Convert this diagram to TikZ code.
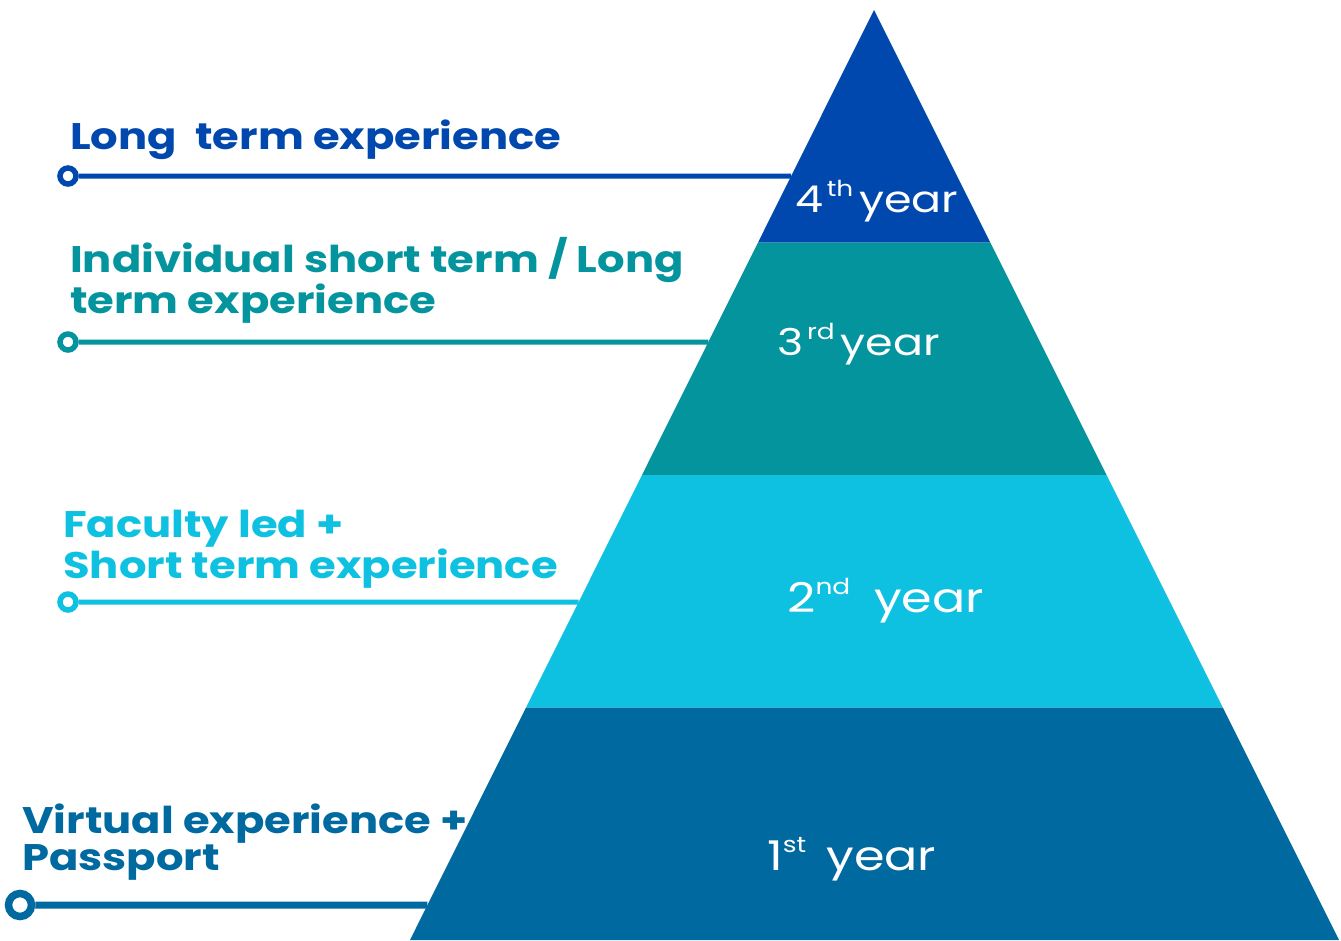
\documentclass[tikz,border=0pt]{standalone}
\usepackage{fontspec}
\setmainfont{Poppins}
\usetikzlibrary{calc}

\definecolor{yrfour}{RGB}{0,72,173}
\definecolor{yrthree}{RGB}{3,148,158}
\definecolor{yrtwo}{RGB}{14,193,224}
\definecolor{yrone}{RGB}{0,105,160}

% year label with raised ordinal
\newcommand{\yearlbl}[3]{#1\raisebox{0.42em}{\fontsize{22}{22}\selectfont\addfontfeatures{FakeStretch=1.2}#2}\hspace{#3}year}

\begin{document}
\begin{tikzpicture}[x=1pt,y=-1pt]

    \tikzstyle{yrtxt}=[text=white,inner sep=0pt,anchor=base west,
            font=\fontsize{37}{37}\selectfont\addfontfeatures{FakeStretch=1.2}]
    \tikzstyle{exptxt}=[inner sep=0pt,anchor=base west,align=left,
            font=\fontsize{37}{37}\selectfont\bfseries\addfontfeatures{FakeStretch=1.17}]
    \tikzstyle{pin}=[circle,fill=white,line width=5.5pt,inner sep=0pt,
            minimum size=16pt]
    \tikzstyle{lead}=[line width=5pt]

    \useasboundingbox (0,0) rectangle (1341,940);

    % ============================
    % Pyramid corners
    % ============================

    \coordinate (apex) at (874,10);
    \coordinate (bl) at (410,940);
    \coordinate (br) at (1339,940);

    \coordinate (l1) at ($(apex)!0.25!(bl)$);
    \coordinate (r1) at ($(apex)!0.25!(br)$);
    \coordinate (l2) at ($(apex)!0.5!(bl)$);
    \coordinate (r2) at ($(apex)!0.5!(br)$);
    \coordinate (l3) at ($(apex)!0.75!(bl)$);
    \coordinate (r3) at ($(apex)!0.75!(br)$);

    % ends of the leader lines on the left edge
    \coordinate (e4) at ($(apex)!0.1785!(bl)$);
    \coordinate (e3) at ($(apex)!0.357!(bl)$);
    \coordinate (e2) at ($(apex)!0.6366!(bl)$);
    \coordinate (e1) at ($(apex)!0.9624!(bl)$);

    % ============================
    % Leader lines and pins
    % ============================

    \node[pin,draw=yrfour] (p4) at (68,176) {};
    \node[pin,draw=yrthree] (p3) at (68,342) {};
    \node[pin,draw=yrtwo] (p2) at (68,602) {};
    \node[pin,draw=yrone,line width=7.5pt,minimum size=23pt] (p1) at (20,905) {};

    \draw[lead,yrfour] (p4) -- (e4);
    \draw[lead,yrthree] (p3) -- (e3);
    \draw[lead,yrtwo] (p2) -- (e2);
    \draw[lead,yrone,line width=7pt] (p1) -- (e1);

    % ============================
    % Bands
    % ============================

    \fill[yrfour] (apex) -- (r1) -- (l1) -- cycle;
    \fill[yrthree] (l1) -- (r1) -- (r2) -- (l2) -- cycle;
    \fill[yrtwo] (l2) -- (r2) -- (r3) -- (l3) -- cycle;
    \fill[yrone] (l3) -- (r3) -- (br) -- (bl) -- cycle;

    \node[yrtxt] (y4) at (795,212) {\yearlbl{4}{\,th}{6pt}};
    \node[yrtxt] (y3) at (777,355) {\yearlbl{3}{\,rd}{6pt}};
    \node[yrtxt,font=\fontsize{41}{41}\selectfont\addfontfeatures{FakeStretch=1.2}]
            (y2) at (787,612) {\yearlbl{2}{nd}{24pt}};
    \node[yrtxt,font=\fontsize{41}{41}\selectfont\addfontfeatures{FakeStretch=1.2}]
            (y1) at (767,870) {\yearlbl{1}{st}{20pt}};

    % ============================
    % Experience labels
    % ============================

    \node[exptxt,text=yrfour] (x4) at (70,149) {Long\ \ term experience};
    \node[exptxt,text=yrthree] (x3) at (70,313)
            {Individual short term / Long\\term experience};
    \node[exptxt,text=yrtwo] (x2) at (63,578)
            {Faculty led +\\Short term experience};
    \node[exptxt,text=yrone] (x1) at (22,870)
            {Virtual experience +\\Passport};

\end{tikzpicture}
\end{document}
